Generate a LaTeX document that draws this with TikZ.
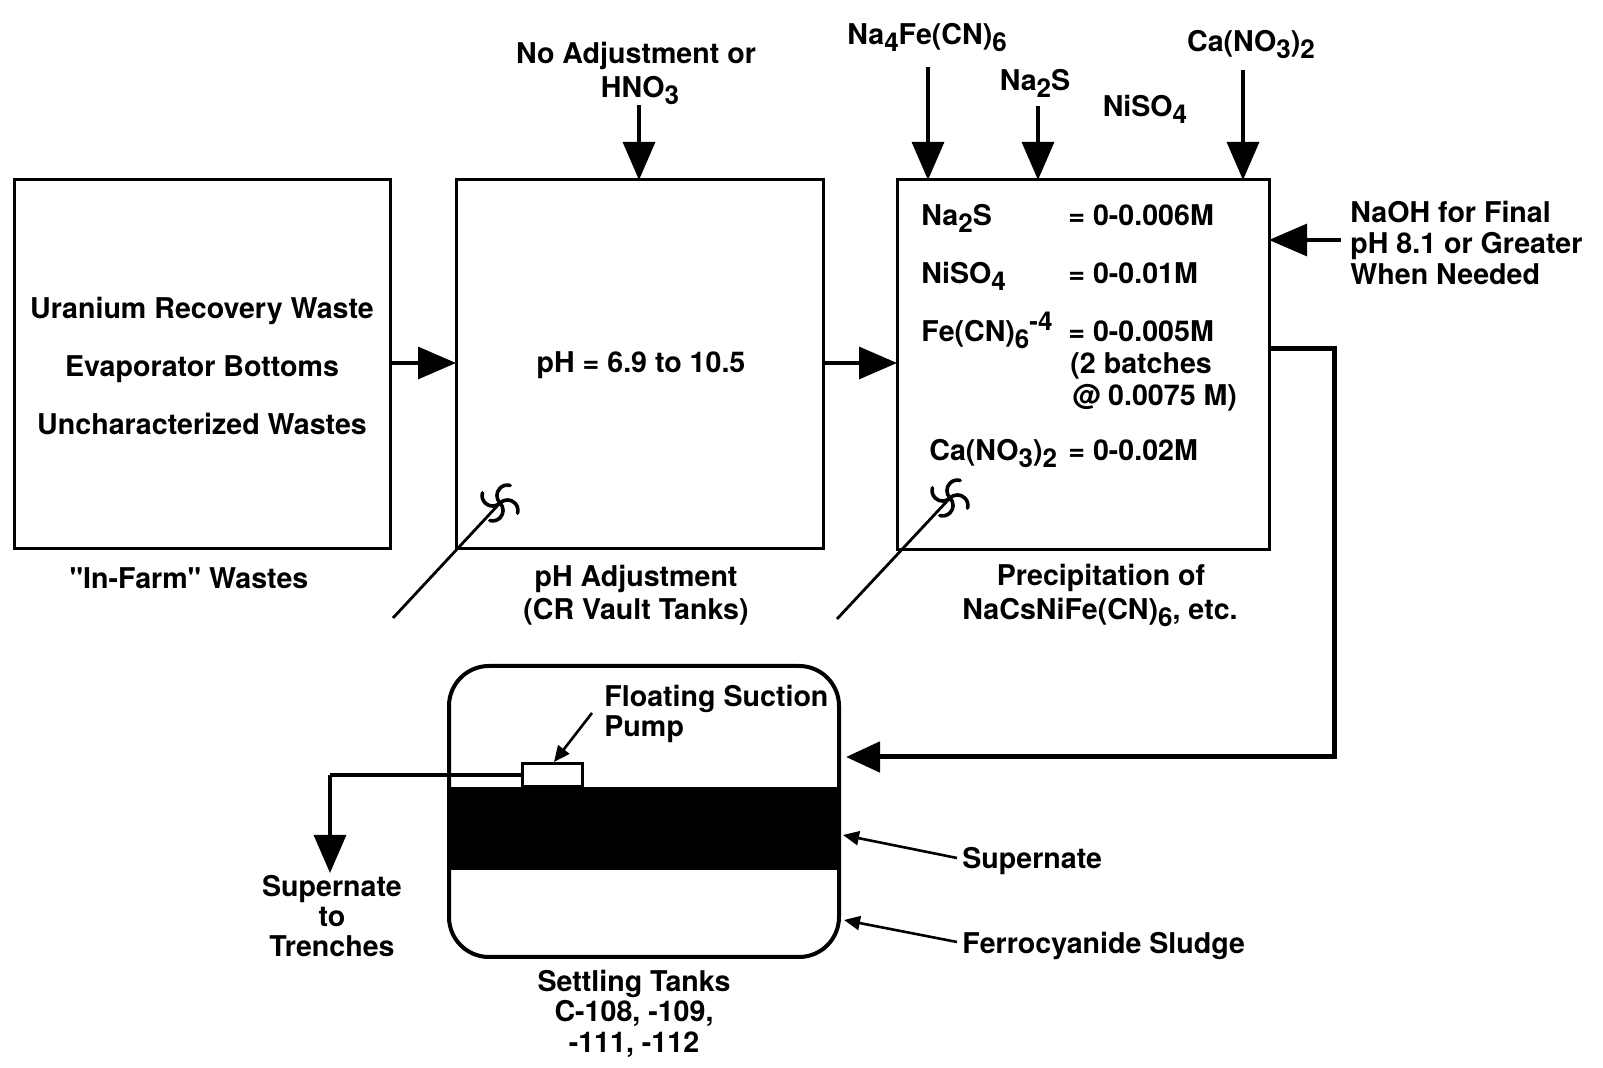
\documentclass[tikz,border=0pt]{standalone}
\usepackage{fontspec}
\setmainfont{TeX Gyre Heros}[Ligatures=TeXOff]
\usetikzlibrary{arrows.meta,calc}
\newcommand{\csub}[1]{\raisebox{-0.45ex}{\fontsize{13}{13}\selectfont #1}}
\newcommand{\csup}[1]{\raisebox{0.75ex}{\fontsize{13}{13}\selectfont #1}}
\begin{document}
\begin{tikzpicture}[x=0.5pt,y=-0.5pt,
  lbl/.style={font=\fontsize{14.3}{17}\selectfont\bfseries, inner sep=0, anchor=base},
  lblw/.style={lbl, anchor=base west},
  box/.style={draw, line width=1.5pt, inner sep=0, outer sep=0},
  bigarrow/.style={line width=1.6pt, -{Triangle[width=16pt,length=19pt]}},
  smallarrow/.style={line width=1.3pt, -{Triangle[width=7pt,length=8pt]}},
  shaft/.style={line width=1.4pt},
  impeller/.pic={\foreach \a in {45,135,225,315}{\draw[line width=1.8pt, line cap=round] (0,0) arc[start angle=\a+180, delta angle=150, radius=10.5];}}
]
\useasboundingbox (0,0) rectangle (1603,1068);

% ---------- boxes ----------
\node[box, minimum width=188pt, minimum height=184.5pt] (b1) at (202,364.5) {};
\node[box, minimum width=183.5pt, minimum height=184.5pt] (b2) at (639.5,364.5) {};
\node[box, minimum width=186pt, minimum height=185pt] (b3) at (1083,365) {};

% ---------- box 1 ----------
\node[lbl] (u1) at (202,319) {Uranium Recovery Waste};
\node[lbl] (u2) at (202,377) {Evaporator Bottoms};
\node[lbl] (u3) at (202,435) {Uncharacterized Wastes};
\node[lbl] (inf) at (189,589) {"In-Farm" Wastes};

% ---------- box 2 ----------
\node[lbl] (ph) at (641,373) {pH = 6.9 to 10.5};
\node[lbl] (pha1) at (636,587) {pH Adjustment};
\node[lbl] (pha2) at (636,620) {(CR Vault Tanks)};
\node[lbl] (noadj) at (636,64) {No Adjustment or};
\node[lbl] (hno3) at (640,98) {HNO\csub{3}};
\coordinate (hno3a) at (639,105);
\draw[bigarrow] (hno3a) -- (hno3a |- b2.north);

% ---------- box 3 ----------
\node[lblw] (c1) at (921,226) {Na\csub{2}S};
\node[lblw] (c1v) at (1068,226) {= 0-0.006M};
\node[lblw] (c2) at (921,284) {NiSO\csub{4}};
\node[lblw] (c2v) at (1068,284) {= 0-0.01M};
\node[lblw] (c3) at (921,342) {Fe(CN)\csub{6}\csup{-4}};
\node[lblw] (c3v) at (1068,342) {= 0-0.005M};
\node[lblw] (c3b) at (1070,374) {(2 batches};
\node[lblw] (c3c) at (1072,406) {@ 0.0075 M)};
\node[lblw] (c4) at (929,461) {Ca(NO\csub{3})\csub{2}};
\node[lblw] (c4v) at (1068,461) {= 0-0.02M};
\node[lbl] (pr1) at (1101,586) {Precipitation of};
\node[lbl] (pr2) at (1100,620) {NaCsNiFe(CN)\csub{6}, etc.};

% top reagents
\node[lbl] (na4) at (927,45) {Na\csub{4}Fe(CN)\csub{6}};
\node[lbl] (na2s) at (1035,91) {Na\csub{2}S};
\node[lbl] (niso) at (1145,117) {NiSO\csub{4}};
\node[lbl] (cano) at (1251,52) {Ca(NO\csub{3})\csub{2}};
\coordinate (na4a) at (928,67);
\coordinate (na2sa) at (1038,106);
\coordinate (canoa) at (1243,70);
\draw[bigarrow] (na4a) -- (na4a |- b3.north);
\draw[bigarrow] (na2sa) -- (na2sa |- b3.north);
\draw[bigarrow] (canoa) -- (canoa |- b3.north);

% NaOH
\node[lblw] (naoh1) at (1350,223) {NaOH for Final};
\node[lblw] (naoh2) at (1350,254) {pH 8.1 or Greater};
\node[lblw] (naoh3) at (1350,285) {When Needed};
\coordinate (naoha) at (1341,240);
\draw[bigarrow] (naoha) -- (naoha -| b3.east);

% ---------- flow between boxes ----------
\draw[bigarrow] (b1.east |- 0,363) -- (b2.west |- 0,363);
\draw[bigarrow] (b2.east |- 0,363) -- (b3.west |- 0,363);

% ---------- mixers ----------
\coordinate (m1a) at (393,618);
\coordinate (m1b) at (500,503);
\coordinate (m2a) at (837,619);
\coordinate (m2b) at (950,498);
\draw[shaft] (m1a) -- (m1b);
\draw[shaft] (m2a) -- (m2b);
\pic at (m1b) {impeller};
\pic at (m2b) {impeller};

% ---------- settling tank ----------
\node[inner sep=0, outer sep=0, minimum width=195pt, minimum height=145.5pt] (tank) at (644,811.5) {};
\fill (tank.west |- 0,787) rectangle (tank.east |- 0,870);
\draw[line width=2pt, rounded corners=20pt] (tank.south west) rectangle (tank.north east);
\node[draw, fill=white, line width=1.5pt, inner sep=0, minimum width=30pt, minimum height=11.5pt] (pump) at (552,775.5) {};
\coordinate (pipeturn) at (330,775);
\coordinate (pipeend) at (330,873);
\draw[line width=1.6pt] (pump.west |- 0,775) -- (pipeturn);
\draw[bigarrow] (pipeturn) -- (pipeend);

\node[lblw] (fsp1) at (604,707) {Floating Suction};
\node[lblw] (fsp2) at (604,737) {Pump};
\coordinate (fspa) at (592,713);
\coordinate (fspt) at (554,762);
\draw[smallarrow] (fspa) -- (fspt);

% return line from precipitation to tank
\coordinate (r1) at (1334,349);
\coordinate (r2) at (1334,757);
\coordinate (rtip) at (846,757);
\draw[line width=2.5pt] (b3.east |- r1) -- (r1) -- (r2) -- ($(rtip)+(20,0)$);
\draw[line width=2.5pt, -{Triangle[width=15pt,length=17pt]}] ($(rtip)+(30,0)$) -- (rtip);

% labels on right of tank
\node[lblw] (sup) at (962,869) {Supernate};
\node[lblw] (fer) at (962,954) {Ferrocyanide Sludge};
\coordinate (supa) at (957,858);
\coordinate (supt) at (843,835);
\coordinate (fera) at (957,942);
\coordinate (fert) at (844,920);
\draw[smallarrow] (supa) -- (supt);
\draw[smallarrow] (fera) -- (fert);

% supernate to trenches
\node[lbl] (st1) at (332,897) {Supernate};
\node[lbl] (st2) at (332,927) {to};
\node[lbl] (st3) at (332,957) {Trenches};

% settling tank labels
\node[lbl] (sett1) at (634,992) {Settling Tanks};
\node[lbl] (sett2) at (634,1022) {C-108, -109,};
\node[lbl] (sett3) at (634,1053) {-111, -112};
\end{tikzpicture}
\end{document}
